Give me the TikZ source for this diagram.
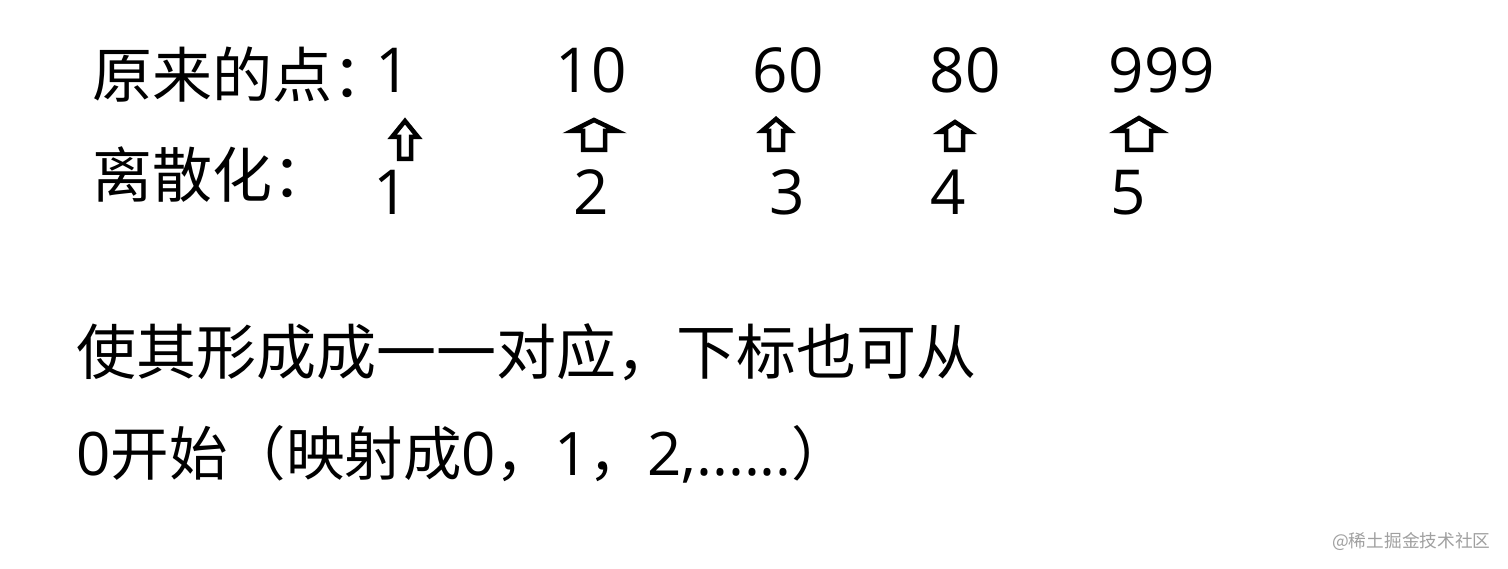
\documentclass[tikz,border=0pt]{standalone}
\usepackage{fontspec}
\setmainfont{Noto Sans CJK SC}
\newfontfamily\lat{Open Sans}
\definecolor{wm}{HTML}{A0A0A0}
\tikzset{
  lbl/.style={inner sep=0pt, anchor=base west, font=\fontsize{60}{72}\selectfont},
  num/.style={inner sep=0pt, anchor=base, font=\lat\fontsize{62}{72}\selectfont},
  uparrow/.style={draw=black, line width=4.5pt, line join=miter, fill=white},
}
% tipx tipy wingL wingR wingy shaftL shaftR bottom
\newcommand\blockup[8]{\draw[uparrow] (#1,#2) -- (#4,#5) -- (#7,#5) -- (#7,#8) -- (#6,#8) -- (#6,#5) -- (#3,#5) -- cycle;}
\begin{document}
\begin{tikzpicture}[x=1pt,y=-1pt]
\useasboundingbox (0,0) rectangle (1508,569);
\fill[white] (0,0) rectangle (1508,569);
% row 1
\node[lbl] (lab1) at (92,98) {原来的点：};
\node[num] (o1) at (393,93) {1};
\node[num] (o2) at (591,93) {10};
\node[num] (o3) at (788,93) {60};
\node[num] (o4) at (965,93) {80};
\node[num] (o5) at (1162,93) {999};
% arrows
\blockup{405}{121}{392}{418}{137}{399}{411}{159}
\blockup{594}{120}{572}{617}{131}{583}{605}{150}
\blockup{776}{119}{762}{790}{131}{769}{783}{150}
\blockup{955}{122}{940}{970}{132}{946}{963}{150}
\blockup{1139}{118}{1117}{1161}{131}{1127}{1151}{150}
% row 2
\node[lbl] (lab2) at (92,198) {离散化：};
\node[num] (d1) at (391,215) {1};
\node[num] (d2) at (591,215) {2};
\node[num] (d3) at (787,215) {3};
\node[num] (d4) at (948,215) {4};
\node[num] (d5) at (1128,215) {5};
% bottom text
\node[lbl] (t1) at (76,374) {使其形成成一一对应，下标也可从};
\node[lbl, font=\fontsize{58.5}{70}\selectfont] (t2) at (76,475) {{\lat\fontsize{60}{70}\selectfont 0}开始（映射成{\lat\fontsize{60}{70}\selectfont 0}，{\lat\fontsize{60}{70}\selectfont 1}，{\lat\fontsize{60}{70}\selectfont 2,......}）};
% watermark
\node[inner sep=0pt, anchor=base west, text=wm, font=\fontsize{17.7}{21}\selectfont] (wmk) at (1332,547) {@稀土掘金技术社区};
\end{tikzpicture}
\end{document}
